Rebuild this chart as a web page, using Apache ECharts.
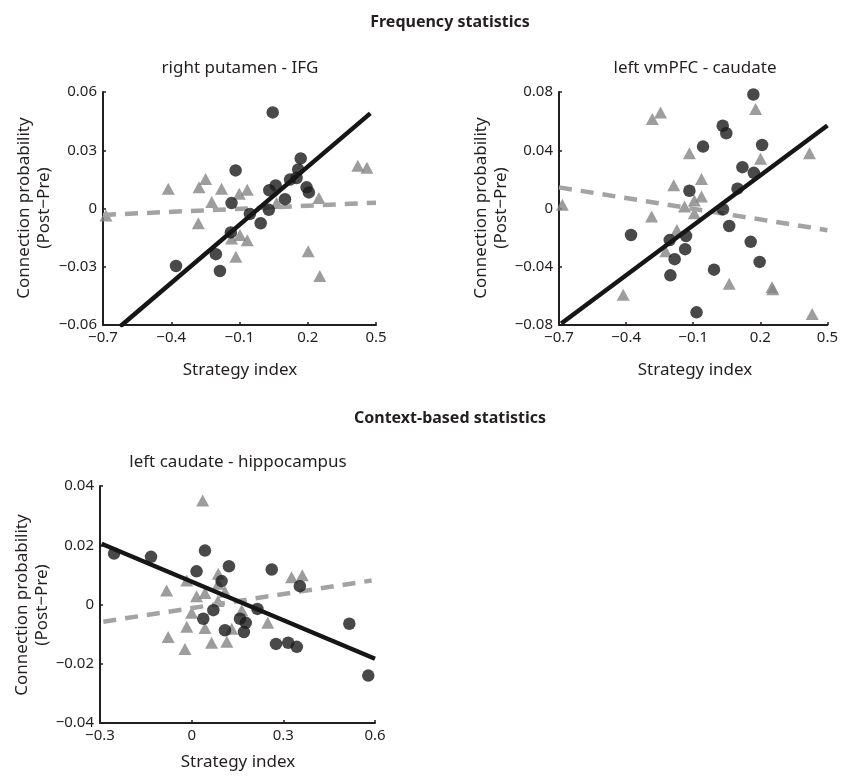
<!DOCTYPE html>
<html>
<head>
<meta charset="utf-8">
<script src="https://cdn.jsdelivr.net/npm/echarts@6.0.0/dist/echarts.min.js"></script>
<style>
html,body{margin:0;padding:0;background:#fff;}
#c{width:841px;height:776px;}
</style>
</head>
<body>
<div id="c"></div>
<script>
// ---------- data ----------
const mainTitles = ["Frequency statistics", "Context-based statistics"];
const panelTitles = ["right putamen - IFG", "left vmPFC - caudate", "left caudate - hippocampus"];
const xName = "Strategy index";
const yName1 = "Connection probability";
const yName2 = "(Post\u2212Pre)";

const xTicksFreq = [-0.7, -0.4, -0.1, 0.2, 0.5];
const xTicksCtx = [-0.3, 0, 0.3, 0.6];
const yTicksPutamen = [-0.06, -0.03, 0, 0.03, 0.06];
const yTicksVmpfc = [-0.08, -0.04, 0, 0.04, 0.08];
const yTicksCaudate = [-0.04, -0.02, 0, 0.02, 0.04];

const putamenCircles = [[0.046,0.0495],[-0.117,0.0196],[0.169,0.0258],[0.158,0.0201],[0.122,0.0149],[0.151,0.0157],[0.059,0.0119],[0.031,0.0094],[0.100,0.0048],[0.195,0.0109],[0.205,0.0083],[-0.135,0.0028],[-0.054,-0.0028],[0.029,-0.0007],[-0.007,-0.0076],[-0.138,-0.0123],[-0.204,-0.0235],[-0.379,-0.0296],[-0.186,-0.0322],[-0.083,-0.0618]];
const putamenTriangles = [[-0.413,0.0102],[-0.249,0.0152],[-0.278,0.0109],[-0.179,0.0102],[-0.101,0.0076],[-0.066,0.0097],[-0.222,0.0033],[0.249,0.0054],[0.063,0.0028],[-0.281,-0.0076],[-0.098,-0.0137],[-0.066,-0.0163],[-0.135,-0.0154],[-0.116,-0.0249],[0.202,-0.022],[0.253,-0.0348],[-0.687,-0.0036],[0.42,0.022],[0.46,0.021]];
const putamenFitCircles = [[-0.625,-0.0608],[0.475,0.049]];
const putamenFitTriangles = [[-0.7,-0.0033],[0.5,0.003]];

const vmpfcCircles = [[0.169,0.0783],[0.032,0.0568],[0.048,0.0517],[-0.056,0.0425],[0.208,0.0436],[0.120,0.0284],[0.171,0.0245],[-0.117,0.0122],[0.098,0.0136],[0.033,-0.0005],[-0.378,-0.0182],[-0.205,-0.0217],[-0.132,-0.0189],[-0.136,-0.0279],[-0.183,-0.0348],[-0.202,-0.0459],[-0.007,-0.042],[0.061,-0.012],[0.157,-0.0229],[0.197,-0.0367],[-0.085,-0.0713]];
const vmpfcTriangles = [[0.179,0.0683],[-0.283,0.0614],[-0.246,0.066],[-0.117,0.0379],[0.201,0.0341],[0.42,0.0379],[-0.063,0.0203],[-0.187,0.0159],[-0.095,0.0055],[-0.063,0.0083],[-0.139,0.0014],[-0.685,0.0026],[-0.286,-0.0055],[-0.173,-0.0148],[-0.223,-0.0293],[0.061,-0.0517],[0.252,-0.054],[0.256,-0.0555],[-0.413,-0.0593],[-0.095,-0.0032],[0.432,-0.0725]];
const vmpfcFitCircles = [[-0.69,-0.079],[0.5,0.057]];
const vmpfcFitTriangles = [[-0.7,0.0145],[0.5,-0.0149]];

const caudateCircles = [[-0.254,0.0172],[-0.133,0.0161],[0.0435,0.0182],[0.122,0.0129],[0.016,0.0112],[0.098,0.0079],[0.262,0.0118],[0.354,0.0062],[0.071,-0.0019],[0.038,-0.0048],[0.215,-0.0015],[0.158,-0.0048],[0.177,-0.0062],[0.171,-0.0093],[0.109,-0.0087],[0.276,-0.0133],[0.316,-0.0129],[0.344,-0.0143],[0.516,-0.0065],[0.578,-0.024]];
const caudateTriangles = [[0.036,0.0351],[0.327,0.0092],[0.362,0.0099],[-0.082,0.0047],[0.087,0.0104],[0.087,0.007],[-0.016,0.0081],[0.109,0.0043],[0.016,0.0028],[0.0435,0.0039],[0.086,0.0012],[0.0,-0.0028],[0.164,-0.0019],[0.131,-0.0082],[-0.016,-0.0075],[0.0435,-0.0079],[0.249,-0.0062],[-0.077,-0.011],[-0.022,-0.015],[0.065,-0.0129],[0.115,-0.0126]];
const caudateFitCircles = [[-0.295,0.0205],[0.6,-0.0183]];
const caudateFitTriangles = [[-0.289,-0.0058],[0.589,0.0081]];

// ---------- styling ----------
const FONT = "'Noto Sans', 'Open Sans', sans-serif";
const INK = '#231f20';
const DOT = '#1b1b1b';
const TRI = '#858585';
const DASH = '#a3a3a3';

function fmt(v){
  const n = parseFloat(Number(v).toFixed(3));
  if (n === 0) return '0';
  return n < 0 ? '\u2212' + String(Math.abs(n)) : String(n);
}

const grids = [
  {left:103, top:92, width:273, height:233},
  {left:559, top:92, width:272, height:233},
  {left:100, top:486, width:275, height:237}
];

function xAx(gi, ticks){
  return {
    type:'value', gridIndex:gi, min:ticks[0], max:ticks[ticks.length-1],
    axisLine:{show:true, onZero:false, lineStyle:{color:INK, width:2}},
    axisTick:{show:true, inside:true, length:3, customValues:ticks, lineStyle:{color:INK, width:1.5}},
    axisLabel:{customValues:ticks, formatter:fmt, color:INK, fontSize:15, margin:5, fontFamily:FONT},
    splitLine:{show:false}
  };
}
function yAx(gi, ticks){
  return {
    type:'value', gridIndex:gi, min:ticks[0], max:ticks[ticks.length-1],
    axisLine:{show:true, onZero:false, lineStyle:{color:INK, width:2}},
    axisTick:{show:true, inside:true, length:3, customValues:ticks, lineStyle:{color:INK, width:1.5}},
    axisLabel:{customValues:ticks, formatter:fmt, color:INK, fontSize:15, margin:6, fontFamily:FONT},
    splitLine:{show:false}
  };
}

function panelSeries(i, circles, triangles, fitC, fitT){
  return [
    {type:'scatter', xAxisIndex:i, yAxisIndex:i, data:triangles, symbol:'triangle', symbolSize:[13,12],
      itemStyle:{color:TRI}, z:2},
    {type:'line', xAxisIndex:i, yAxisIndex:i, data:fitT, symbol:'none',
      lineStyle:{color:DASH, width:4.5, type:[13,9]}, z:3},
    {type:'scatter', xAxisIndex:i, yAxisIndex:i, data:circles, symbol:'circle', symbolSize:12.5,
      itemStyle:{color:DOT}, z:4},
    {type:'line', xAxisIndex:i, yAxisIndex:i, data:fitC, symbol:'none',
      lineStyle:{color:'#161616', width:4.5}, z:5}
  ];
}

function txt(x, y, s, size, weight, rot){
  return {type:'text', x:x, y:y, rotation: rot||0,
    style:{text:s, fontSize:size, fontWeight:weight||'normal', fontFamily:FONT, fill:INK,
      textAlign:'center', textVerticalAlign:'middle'}};
}

const graphics = [
  txt(450, 22, mainTitles[0], 16, 'bold'),
  txt(240, 68, panelTitles[0], 17),
  txt(695, 68, panelTitles[1], 17),
  txt(450, 418, mainTitles[1], 16, 'bold'),
  txt(238, 462, panelTitles[2], 17),
  txt(240, 370, xName, 17),
  txt(695, 370, xName, 17),
  txt(238, 762, xName, 17),
  txt(24, 208, yName1, 17, 'normal', Math.PI/2),
  txt(44, 208, yName2, 17, 'normal', Math.PI/2),
  txt(481, 208, yName1, 17, 'normal', Math.PI/2),
  txt(501, 208, yName2, 17, 'normal', Math.PI/2),
  txt(22, 605, yName1, 17, 'normal', Math.PI/2),
  txt(42, 605, yName2, 17, 'normal', Math.PI/2)
];

const chart = echarts.init(document.getElementById('c'), null, {renderer:'canvas'});
chart.setOption({
  animation:false,
  backgroundColor:'#fff',
  grid:grids,
  xAxis:[xAx(0, xTicksFreq), xAx(1, xTicksFreq), xAx(2, xTicksCtx)],
  yAxis:[yAx(0, yTicksPutamen), yAx(1, yTicksVmpfc), yAx(2, yTicksCaudate)],
  series:[].concat(
    panelSeries(0, putamenCircles, putamenTriangles, putamenFitCircles, putamenFitTriangles),
    panelSeries(1, vmpfcCircles, vmpfcTriangles, vmpfcFitCircles, vmpfcFitTriangles),
    panelSeries(2, caudateCircles, caudateTriangles, caudateFitCircles, caudateFitTriangles)
  ),
  graphic:graphics
});
</script>
</body>
</html>
